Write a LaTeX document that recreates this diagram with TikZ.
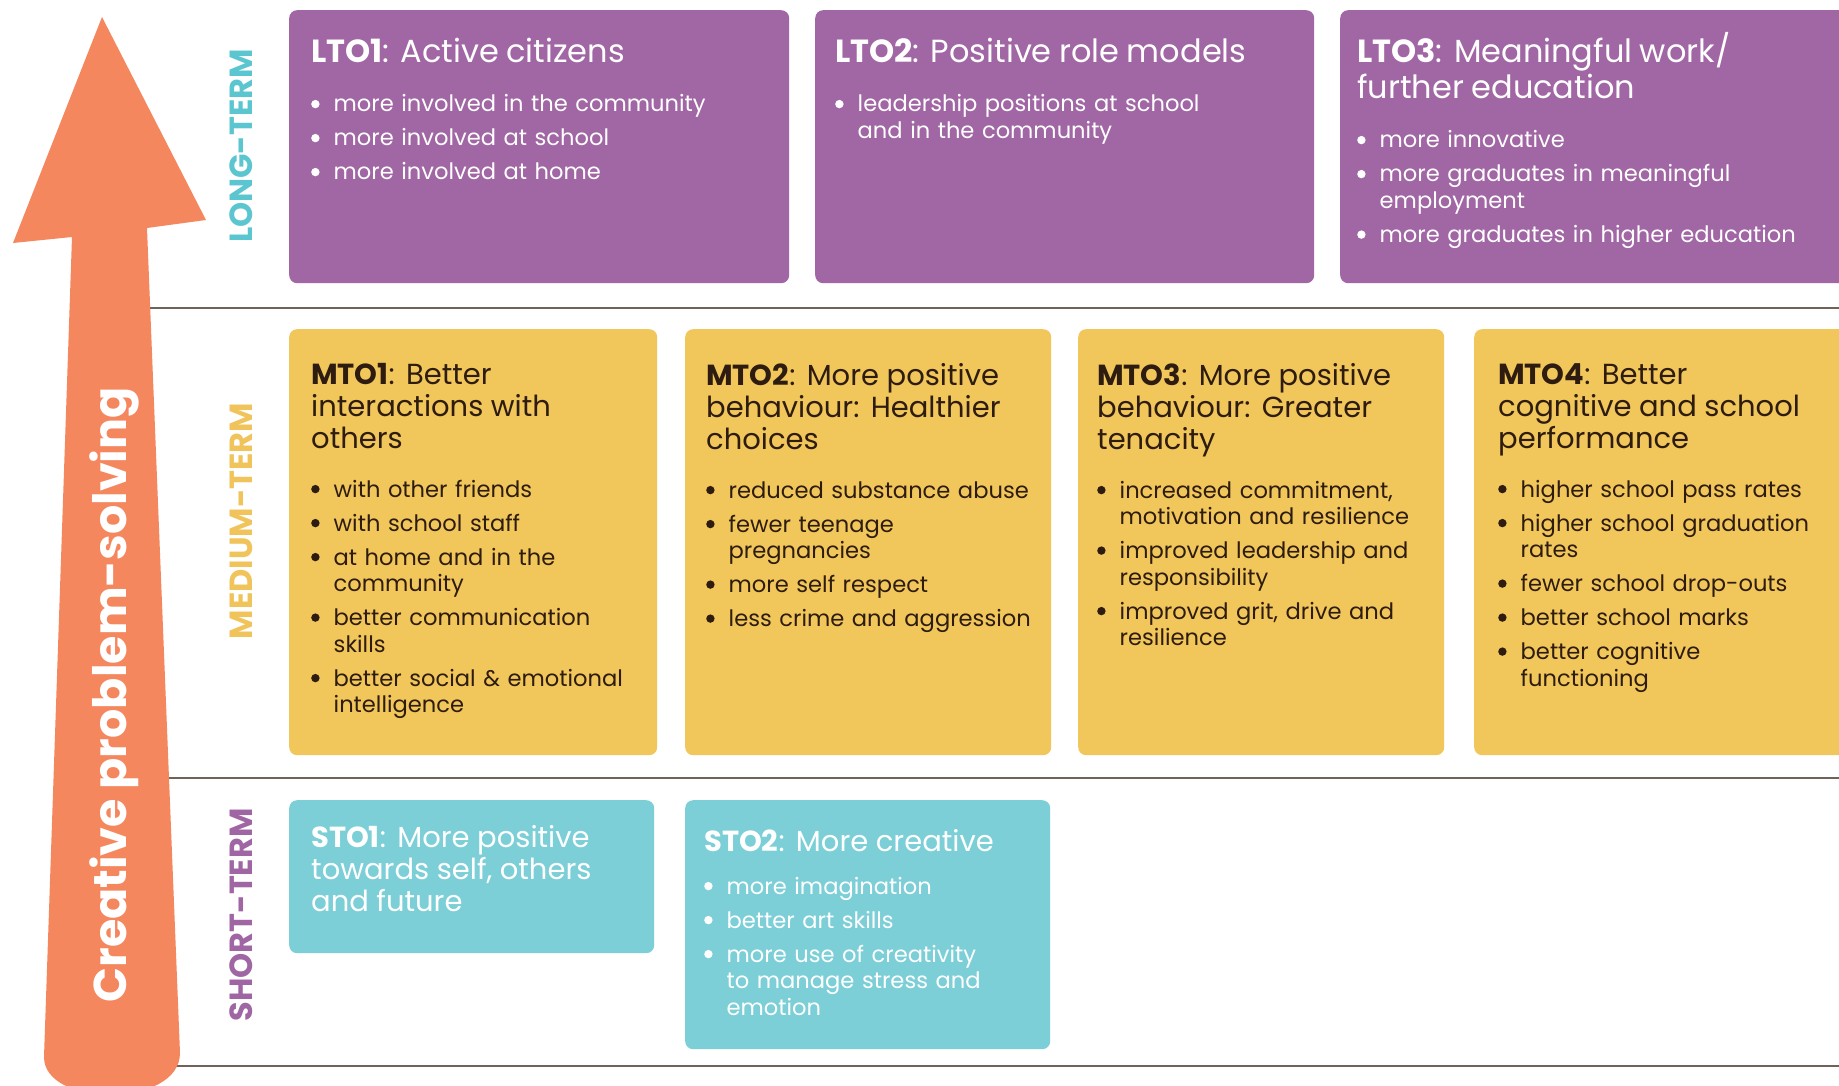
\documentclass[tikz,border=0pt]{standalone}
\usepackage{fontspec}
\setmainfont{Poppins}
\definecolor{purp}{HTML}{A166A4}
\definecolor{yel}{HTML}{F1C65A}
\definecolor{tealbox}{HTML}{7CCFD7}
\definecolor{orng}{HTML}{F5875F}
\definecolor{labteal}{HTML}{5CC6D0}
\definecolor{labyel}{HTML}{F0C45A}
\definecolor{labpurp}{HTML}{A066A3}
\definecolor{darktxt}{HTML}{2D1C0F}
\definecolor{rulec}{HTML}{6E6356}
\newcommand{\ttl}[2]{{\fontsize{29}{32}\selectfont\textbf{#1}: #2\par}}
\newcommand{\ttlL}[2]{{\fontsize{32}{36}\selectfont\textbf{#1}: #2\par}}
\newcommand{\nl}{\hfil\break}
\newcommand{\bdot}{\raisebox{3.7pt}{\tikz\fill (0,0) circle (4.2pt);}}
\newcommand{\bitem}[1]{\par\hangindent=22.5pt\hangafter=1\noindent\makebox[22.5pt][l]{\bdot}#1\par}
\newcommand{\gapT}{\vspace{15pt}}
\tikzset{
  outbox/.style={rounded corners=8pt, anchor=north west, inner sep=0pt, draw=none},
  ltbox/.style={outbox, fill=purp},
  mtbox/.style={outbox, fill=yel},
  stbox/.style={outbox, fill=tealbox},
  boxtext/.style={anchor=base west, inner sep=0pt, text width=470pt, align=left,
    font=\fontsize{22.6}{26.5}\selectfont\setlength{\parskip}{7.5pt}},
  sidelabel/.style={rotate=90, anchor=base, inner sep=0pt, font=\fontsize{32}{32}\selectfont\bfseries},
  rulel/.style={draw=rulec, line width=1.6pt}
}
\begin{document}
\begin{tikzpicture}[x=1pt,y=-1pt]
\useasboundingbox (0,0) rectangle (1839,1086);
\clip (0,0) rectangle (1839,1086);
\fill[white] (0,0) rectangle (1839,1086);

% separator rules
\coordinate (r1a) at (100,308); \coordinate (r1b) at (1845,308);
\coordinate (r2a) at (100,778); \coordinate (r2b) at (1845,778);
\coordinate (r3a) at (100,1066); \coordinate (r3b) at (1845,1066);
\draw[rulel] (r1a) -- (r1b);
\draw[rulel] (r2a) -- (r2b);
\draw[rulel] (r3a) -- (r3b);

% arrow
\fill[orng] (102,17) -- (206,220) -- (147,228) -- (180,1053)
  .. controls (180,1108) and (44,1108) .. (44,1057)
  -- (72,237) -- (13,243) -- cycle;
\node[rotate=90, anchor=base, inner sep=0pt, text=white,
  font=\fontsize{46}{46}\selectfont\bfseries] (arrowtxt) at (126,695) {Creative problem-solving};

% side labels
\node[sidelabel, text=labteal] (lterm) at (252,146) {LONG-TERM};
\node[sidelabel, text=labyel] (mterm) at (252,521) {MEDIUM-TERM};
\node[sidelabel, text=labpurp] (sterm) at (252,915) {SHORT-TERM};

% long-term boxes
\node[ltbox, minimum width=500pt, minimum height=273pt] (lto1) at (289,10) {};
\node[ltbox, minimum width=499pt, minimum height=273pt] (lto2) at (815,10) {};
\node[ltbox, minimum width=520pt, minimum height=273pt] (lto3) at (1340,10) {};

% medium-term boxes
\node[mtbox, minimum width=368pt, minimum height=426pt] (mto1) at (289,329) {};
\node[mtbox, minimum width=366pt, minimum height=426pt] (mto2) at (685,329) {};
\node[mtbox, minimum width=366pt, minimum height=426pt] (mto3) at (1078,329) {};
\node[mtbox, minimum width=400pt, minimum height=426pt] (mto4) at (1474,329) {};

% short-term boxes
\node[stbox, minimum width=365pt, minimum height=153pt] (sto1) at (289,800) {};
\node[stbox, minimum width=365pt, minimum height=249pt] (sto2) at (685,800) {};

% texts
\node[boxtext, text=white] (lto1t) at (311,63) {\ttlL{LTO1}{Active citizens}\gapT
  \bitem{more involved in the community}
  \bitem{more involved at school}
  \bitem{more involved at home}};
\node[boxtext, text=white] (lto2t) at (835,63) {\ttlL{LTO2}{Positive role models}\gapT
  \bitem{leadership positions at school\nl and in the community}};
\node[boxtext, text=white] (lto3t) at (1357,63) {\ttlL{LTO3}{Meaningful work/\\further education}\gapT
  \bitem{more innovative}
  \bitem{more graduates in meaningful\nl employment}
  \bitem{more graduates in higher education}};

\node[boxtext, text=darktxt] (mto1t) at (311,384) {\ttl{MTO1}{Better\\interactions with\\others}\gapT
  \bitem{with other friends}
  \bitem{with school staff}
  \bitem{at home and in the\nl community}
  \bitem{better communication\nl skills}
  \bitem{better social \& emotional\nl intelligence}};
\node[boxtext, text=darktxt] (mto2t) at (706,385) {\ttl{MTO2}{More positive\\behaviour: Healthier\\choices}\gapT
  \bitem{reduced substance abuse}
  \bitem{fewer teenage\nl pregnancies}
  \bitem{more self respect}
  \bitem{less crime and aggression}};
\node[boxtext, text=darktxt] (mto3t) at (1097,385) {\ttl{MTO3}{More positive\\behaviour: Greater\\tenacity}\gapT
  \bitem{increased commitment,\nl motivation and resilience}
  \bitem{improved leadership and\nl responsibility}
  \bitem{improved grit, drive and\nl resilience}};
\node[boxtext, text=darktxt] (mto4t) at (1498,384) {\ttl{MTO4}{Better\\cognitive and school\\performance}\gapT
  \bitem{higher school pass rates}
  \bitem{higher school graduation\nl rates}
  \bitem{fewer school drop-outs}
  \bitem{better school marks}
  \bitem{better cognitive\nl functioning}};

\node[boxtext, text=white] (sto1t) at (311,847) {\ttl{STO1}{More positive\\towards self, others\\and future}};
\node[boxtext, text=white] (sto2t) at (704,851) {\ttl{STO2}{More creative}\vspace{9pt}
  \bitem{more imagination}
  \bitem{better art skills}
  \bitem{more use of creativity\nl to manage stress and\nl emotion}};
\end{tikzpicture}
\end{document}
